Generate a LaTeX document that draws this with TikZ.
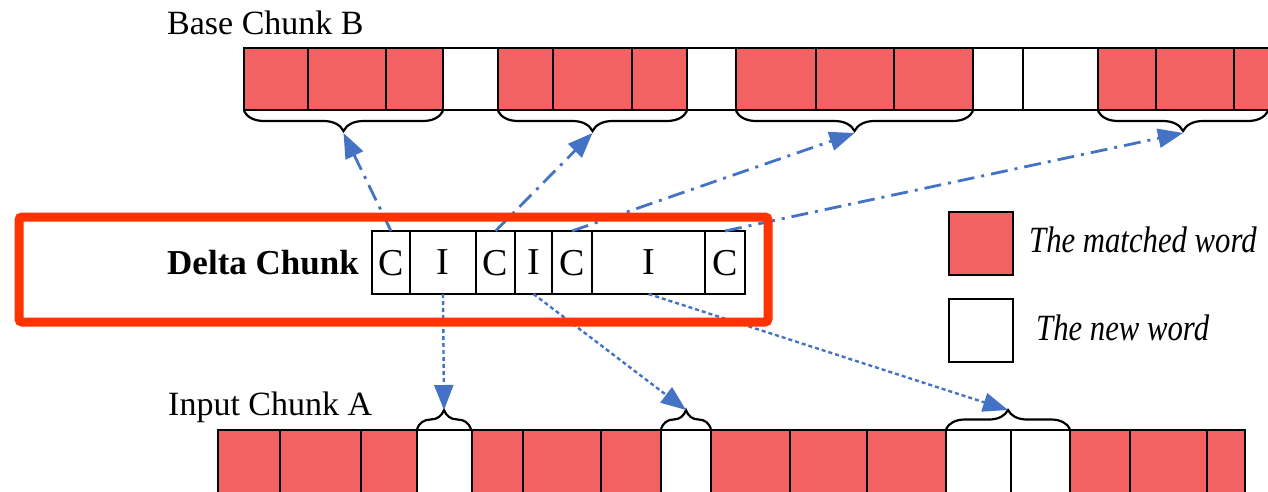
\documentclass[tikz,border=0pt]{standalone}
\usepackage{fontspec}
\setmainfont{Liberation Serif}
\usetikzlibrary{arrows.meta,decorations.pathreplacing}
\definecolor{matchred}{RGB}{242,98,98}
\definecolor{linkblue}{RGB}{68,114,196}
\definecolor{framered}{RGB}{255,51,0}

\begin{document}
\begin{tikzpicture}[x=1pt,y=-1pt,
  cellbox/.style={draw=black, line width=2pt, inner sep=0pt, outer sep=0pt, anchor=north west},
  deltabox/.style={cellbox, line width=1.6pt, minimum height=63pt, text depth=0pt,
    font=\fontsize{38}{40}\selectfont},
  legendbox/.style={draw=black, line width=2.4pt, inner sep=0pt, anchor=north west,
    minimum width=64pt, minimum height=63pt},
  rowlabel/.style={anchor=base west, inner sep=0pt, font=\fontsize{34}{38}\selectfont},
  legendlabel/.style={anchor=base west, inner sep=0pt, font=\fontsize{37}{40}\selectfont\itshape},
  wordbrace/.style={draw=black, line width=2.2pt, decorate},
  copylink/.style={draw=linkblue, line width=2.8pt, dash pattern=on 17pt off 7pt on 3pt off 7pt,
    -{Triangle[length=25pt,width=19pt]}},
  insertlink/.style={draw=linkblue, line width=2.4pt, dash pattern=on 4pt off 3pt,
    -{Triangle[length=25pt,width=19pt]}}
]
\useasboundingbox (0,0) rectangle (1268,492);
\clip (0,0) rectangle (1268,492);
\fill[white] (0,0) rectangle (1268,492);

% base chunk B
\node[rowlabel] (baselabel) at (167,35) {Base Chunk B};
\foreach \x/\w/\c [count=\i] in {244/64/matchred, 308/78/matchred, 386/57/matchred, 443/55/white,
    498/55/matchred, 553/79/matchred, 632/55/matchred, 687/49/white,
    736/80/matchred, 816/78/matchred, 894/79/matchred, 973/50/white, 1023/75/white,
    1098/58/matchred, 1156/78/matchred, 1234/66/matchred}
  \node[cellbox, fill=\c, minimum width=\w pt, minimum height=62pt] (b\i) at (\x,48) {};

% braces under the matched runs of B
\draw[wordbrace, decoration={brace, mirror, amplitude=20pt}] (244,111) -- (443,111);
\draw[wordbrace, decoration={brace, mirror, amplitude=20pt}] (498,111) -- (687,111);
\draw[wordbrace, decoration={brace, mirror, amplitude=20pt}] (736,111) -- (973,111);
\draw[wordbrace, decoration={brace, mirror, amplitude=20pt}] (1098,111) -- (1268,111);
\coordinate (tb1) at (343.5,133);
\coordinate (tb2) at (592.5,133);
\coordinate (tb3) at (854.5,133);
\coordinate (tb4) at (1183,133);

% input chunk A
\node[rowlabel] (inputlabel) at (168,415) {Input Chunk A};
\foreach \x/\w/\c [count=\i] in {218/62/matchred, 280/81/matchred, 361/56/matchred, 417/55/white,
    472/51/matchred, 523/78/matchred, 601/60/matchred, 661/50/white,
    711/79/matchred, 790/77/matchred, 867/79/matchred, 946/65/white, 1011/59/white,
    1070/60/matchred, 1130/77/matchred, 1207/38/matchred}
  \node[cellbox, fill=\c, minimum width=\w pt, minimum height=70pt] (a\i) at (\x,430) {};

% braces over the new words of A
\draw[wordbrace, decoration={brace, amplitude=19pt}] (417,429) -- (471,429);
\draw[wordbrace, decoration={brace, amplitude=19pt}] (661,429) -- (711,429);
\draw[wordbrace, decoration={brace, amplitude=19pt}] (946,429) -- (1070,429);
\coordinate (ta1) at (444,410);
\coordinate (ta2) at (686,410);
\coordinate (ta3) at (1008,410);

% delta chunk
\node[anchor=base east, inner sep=0pt, font=\fontsize{35}{38}\selectfont\bfseries] (deltalabel) at (359,274) {Delta Chunk};
\node[deltabox, minimum width=38pt] (d1) at (372,231) {C};
\node[deltabox, minimum width=66pt] (d2) at (410,231) {I};
\node[deltabox, minimum width=39pt] (d3) at (476,231) {C};
\node[deltabox, minimum width=37pt] (d4) at (515,231) {I};
\node[deltabox, minimum width=40pt] (d5) at (552,231) {C};
\node[deltabox, minimum width=113pt] (d6) at (592,231) {I};
\node[deltabox, minimum width=40pt] (d7) at (705,231) {C};

% copy instructions point into B, insert instructions into A
\draw[copylink] (d1.north) -- (tb1);
\draw[copylink] (d3.north) -- (tb2);
\draw[copylink] (d5.north) -- (tb3);
\draw[copylink] (d7.north) -- (tb4);
\draw[insertlink] (d2.south) -- (ta1);
\draw[insertlink] (d4.south) -- (ta2);
\draw[insertlink] (d6.south) -- (ta3);

% legend
\node[legendbox, fill=matchred] (keymatched) at (948,211) {};
\node[legendbox, fill=white] (keynew) at (948,298) {};
\node[legendlabel] (keymatchedtext) at (1029,252) {\scalebox{0.83}[1]{The matched word}};
\node[legendlabel] (keynewtext) at (1036,340) {\scalebox{0.83}[1]{The new word}};

% highlight frame round the delta chunk
\node[draw=framered, line width=9pt, rounded corners=3pt, inner sep=0pt, anchor=north west,
  minimum width=749pt, minimum height=105pt] (focus) at (14.5,212.5) {};
\end{tikzpicture}
\end{document}
